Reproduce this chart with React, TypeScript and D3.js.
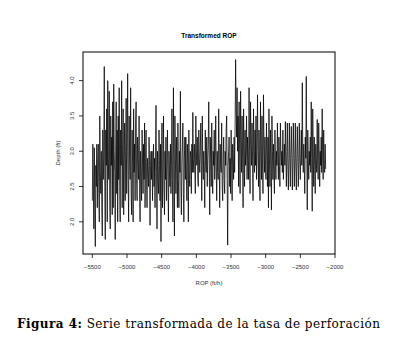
import React from "react";
import * as d3 from "d3";

// ROP range (x) covered by the series, evenly spaced samples
const xStart = -5500;
const xEnd = -2135;

// Transformed depth values (left to right)
const depth: number[] = [
  2.3, 3.1, 2.6, 1.9, 3.05, 2.2, 1.65, 2.8, 2.5, 3.1, 2.2, 2.9,
  3.1, 2.4, 2.0, 3.5, 2.7, 2.4, 3.0, 2.2, 1.8, 3.3, 2.6, 2.9,
  4.2, 2.5, 1.75, 3.3, 2.8, 3.6,
  2.0, 4.0, 2.9, 2.6, 3.85, 2.3, 1.9, 3.5, 2.8, 3.2, 2.1, 3.7,
  2.2, 3.95, 3.0, 2.7, 1.75, 3.1, 3.7, 2.4, 3.3, 2.0, 3.5, 2.6,
  3.9, 2.5, 2.0, 3.3, 2.8, 4.0, 2.2, 3.1, 3.6, 2.1, 2.9, 3.4, 2.3, 3.0,
  3.75, 2.4, 3.0, 4.1, 2.6, 2.0, 3.5, 2.9, 2.6, 3.9, 2.4, 2.1, 3.3, 2.8, 2.0, 3.6, 2.7, 3.1, 2.3, 3.4,
  3.7, 2.6, 2.3, 3.2, 2.9, 2.6, 3.5, 2.4, 2.0, 3.0, 2.7, 2.3, 3.3, 2.8, 2.4, 3.1, 2.6, 3.4, 2.2, 2.9,
  3.3, 2.6, 2.2, 2.9, 2.7, 2.5, 3.2, 2.8, 1.95, 2.8, 3.0, 2.6, 3.0, 2.3, 2.8, 3.1, 2.5, 2.9, 2.2, 3.0,
  3.65, 2.7, 1.9, 3.0, 2.6, 2.4, 3.3, 2.8, 2.3, 3.1,
  1.72, 2.9, 3.4, 2.2, 2.7, 3.5, 2.5, 2.1, 3.0, 2.6,
  3.2, 2.3, 2.8, 3.3, 2.6, 2.0, 3.0, 2.7, 2.5, 3.1, 2.4, 2.8,
  3.6, 2.6, 2.0, 3.9, 2.8, 1.8, 3.5, 2.9, 2.4, 3.2, 2.7, 2.2, 3.4, 2.6,
  2.2, 3.0, 2.7, 3.85, 2.5, 2.1, 2.8, 3.1, 3.4, 2.4, 2.0, 2.9, 3.2, 2.6,
  3.2, 2.7, 2.3, 3.1, 2.8, 2.0, 3.3, 2.6, 2.5, 3.0, 2.9, 2.4, 3.1, 2.7,
  3.55, 2.9, 2.7, 3.1, 2.8, 2.4, 3.5, 3.0, 2.8, 3.2, 2.6, 2.5, 3.3, 2.9, 2.7, 3.0,
  3.4, 2.8, 2.3, 3.5, 2.9, 2.6, 3.0, 2.7, 2.2, 3.3, 2.8, 2.7, 3.2, 2.5, 2.9, 3.1,
  3.7, 2.8, 2.1, 3.2, 2.9, 2.5, 3.4, 2.7, 2.4, 3.0, 2.8, 3.3, 2.6, 2.9,
  3.5, 2.8, 2.3, 3.0, 2.7, 2.6, 3.6, 2.9, 2.2, 3.1, 2.8, 2.7, 3.4, 2.5, 2.3, 2.9, 3.2, 2.6, 2.4, 3.0, 2.8, 3.3,
  3.5, 2.6, 1.67, 2.8, 3.0, 3.2, 2.5, 2.9,
  2.4, 3.3, 2.8, 2.3, 3.1, 2.9, 2.6, 3.2, 2.7, 3.4,
  4.3, 3.6, 3.2, 3.9, 3.0, 3.5,
  2.5, 3.7, 3.1, 2.4, 3.85, 3.2, 2.7, 3.5, 2.9, 2.2, 3.6, 3.0, 2.5, 3.3, 2.8, 3.0, 3.5, 2.6, 3.2, 2.9,
  2.6, 3.9, 3.0, 2.4, 3.7, 3.1, 2.8, 3.4, 2.9, 2.3, 3.6, 3.0, 2.7, 3.3, 2.8, 3.5, 2.6, 3.0,
  3.8, 3.0, 2.5, 3.3, 2.8, 2.3, 3.7, 3.0, 2.6, 3.5, 2.9, 2.4, 3.8, 3.1, 2.7, 3.2, 2.8, 2.6, 3.4, 2.9, 2.5, 3.2,
  2.2, 3.6, 2.9, 2.5, 3.3, 2.8, 2.17, 3.5, 3.0, 2.6, 3.1, 2.7, 2.4, 3.3, 2.9, 2.6, 3.0, 2.8,
  3.4, 2.9, 2.6, 3.2, 2.8, 2.5, 3.4, 3.0, 2.8, 3.0, 2.7, 3.3, 2.6, 2.9, 3.1, 2.8,
  3.42, 2.9, 2.5, 3.0, 3.4, 2.8, 2.45, 2.9, 3.4, 2.85, 2.5, 3.0, 3.35, 2.9, 2.45, 2.85, 3.4,
  2.95, 2.5, 2.9, 3.4, 2.8, 2.45, 2.9, 3.35, 2.95, 2.5, 2.85, 3.4, 2.9, 2.6, 2.95, 3.3, 2.8,
  3.97, 3.0, 2.7, 3.1, 2.8, 2.4, 3.2, 2.9,
  4.06, 3.0, 2.17, 3.3, 2.9, 2.6, 3.0, 2.8, 3.2, 2.7,
  3.7, 2.9, 2.15, 3.6, 3.0, 2.5, 3.2, 2.8, 2.4, 3.1, 2.9, 2.7,
  3.45, 2.8, 2.6, 3.4, 3.0, 2.5, 3.0, 2.8, 3.2, 2.7,
  3.6, 2.9, 2.6, 3.3, 2.8, 2.7, 3.1, 2.75,
];

const xTicks = [-5500, -5000, -4500, -4000, -3500, -3000, -2500, -2000];
const yTicks = [2.0, 2.5, 3.0, 3.5, 4.0];

const title = "Transformed ROP";
const xLabel = "ROP (ft/h)";
const yLabel = "Depth (ft)";
const captionBold = "Figura 4:";
const captionText = " Serie transformada de la tasa de perforación";

export default function App() {
  const W = 400, H = 350;
  const left = 83, right = 335, top = 52, bottom = 254;

  const n = depth.length;
  const xs = depth.map((_, i) => xStart + (i * (xEnd - xStart)) / (n - 1));
  const xPad = (xEnd - xStart) * 0.04;
  const [ymin, ymax] = d3.extent(depth) as [number, number];
  const yPad = (ymax - ymin) * 0.04;

  const x = d3.scaleLinear().domain([xStart - xPad, xEnd + xPad]).range([left, right]);
  const y = d3.scaleLinear().domain([ymin - yPad, ymax + yPad]).range([bottom, top]);

  const line = d3
    .line<number>()
    .x((_, i) => x(xs[i]))
    .y((d) => y(d));

  const sans = "'Liberation Sans', Arial, sans-serif";
  const fmt = (v: number) => (v < 0 ? "\u2212" + Math.abs(v) : String(v));

  return (
    <svg
      width={W}
      height={H}
      style={{ position: "absolute", left: 0, top: 0, background: "#fff" }}
    >
      <rect x={0} y={0} width={W} height={H} fill="#fff" />
      <text x={(left + right) / 2} y={38} textAnchor="middle" fontFamily={sans} fontWeight="bold" fontSize={6.5} fill="#000">
        {title}
      </text>
      <path d={line(depth) || ""} fill="none" stroke="#000" strokeWidth={0.75} strokeLinejoin="miter" />
      <rect x={left} y={top} width={right - left} height={bottom - top} fill="none" stroke="#000" strokeWidth={1} />
      {xTicks.map((t) => (
        <g key={t}>
          <line x1={x(t)} x2={x(t)} y1={bottom} y2={bottom + 4} stroke="#000" strokeWidth={0.8} />
          <text x={x(t)} y={269} textAnchor="middle" fontFamily={sans} fontSize={6} fill="#333">
            {fmt(t)}
          </text>
        </g>
      ))}
      {yTicks.map((t) => (
        <g key={t}>
          <line x1={left - 4} x2={left} y1={y(t)} y2={y(t)} stroke="#000" strokeWidth={0.8} />
          <text
            transform={`translate(74,${y(t)}) rotate(-90)`}
            textAnchor="middle"
            fontFamily={sans}
            fontSize={6}
            fill="#333"
          >
            {t.toFixed(1)}
          </text>
        </g>
      ))}
      <text x={(left + right) / 2} y={285} textAnchor="middle" fontFamily={sans} fontSize={6} fill="#333">
        {xLabel}
      </text>
      <text
        transform={`translate(60,${(top + bottom) / 2}) rotate(-90)`}
        textAnchor="middle"
        fontFamily={sans}
        fontSize={6}
        fill="#333"
      >
        {yLabel}
      </text>
      <text
        x={17}
        y={328}
        fontFamily="'DejaVu Serif', 'Liberation Serif', serif"
        fontSize={12}
        fill="#000"
        textLength={363}
        lengthAdjust="spacing"
      >
        <tspan fontWeight="bold">{captionBold}</tspan>
        <tspan>{captionText}</tspan>
      </text>
    </svg>
  );
}
